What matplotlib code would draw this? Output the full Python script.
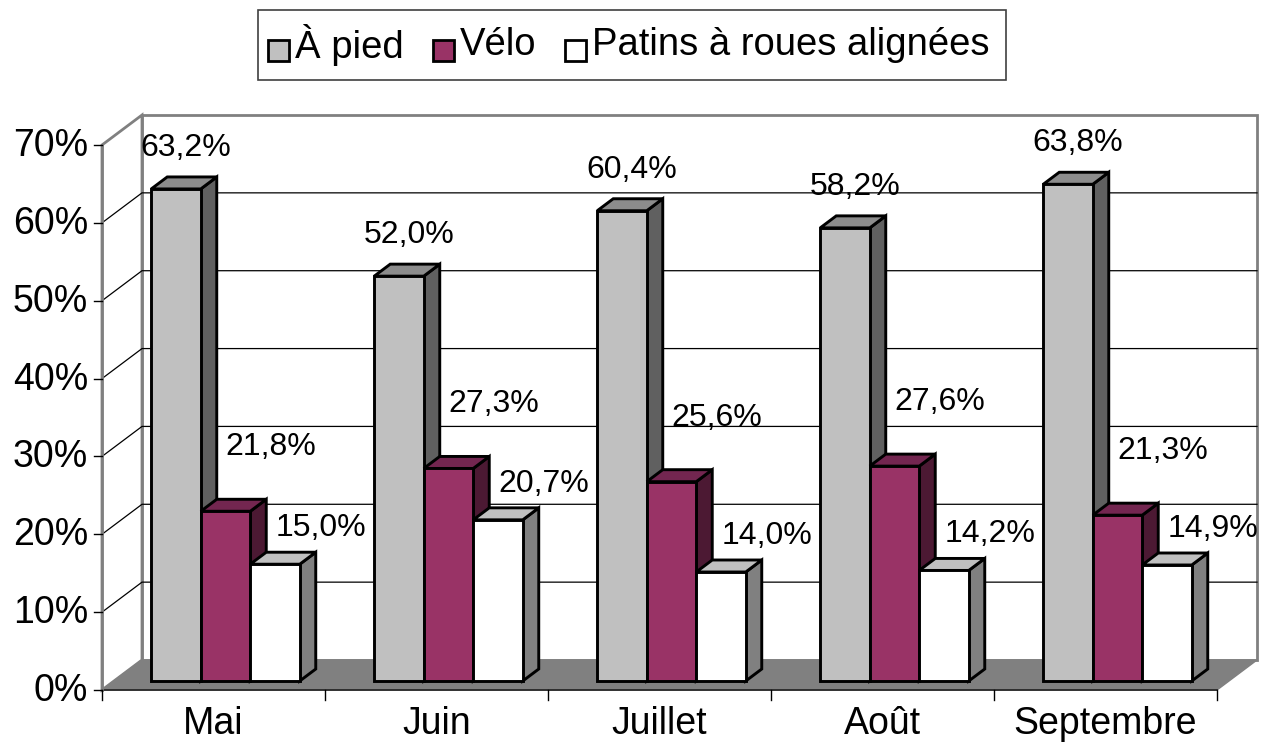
import matplotlib
matplotlib.use("Agg")
import matplotlib.pyplot as plt
from matplotlib.patches import Polygon, Rectangle

# ---------------- data ----------------
categories = ["Mai", "Juin", "Juillet", "Août", "Septembre"]
series_names = ["À pied", "Vélo", "Patins à roues alignées"]
a_pied = [63.2, 52.0, 60.4, 58.2, 63.8]
velo = [21.8, 27.3, 25.6, 27.6, 21.3]
patins = [15.0, 20.7, 14.0, 14.2, 14.9]
y_ticks = [0, 10, 20, 30, 40, 50, 60, 70]
y_tick_labels = ["0%", "10%", "20%", "30%", "40%", "50%", "60%", "70%"]

series_values = [a_pied, velo, patins]
front_colors = ["#C0C0C0", "#993366", "#FFFFFF"]
top_colors = ["#8C8C8C", "#732650", "#C0C0C0"]
side_colors = ["#606060", "#4C1933", "#808080"]
label_offsets = [(10, -41), (45, -64), (46, -36)]

plt.rcParams['font.family'] = ['Liberation Sans', 'DejaVu Sans']

W, H = 1264, 749
fig = plt.figure(figsize=(W / 100, H / 100), dpi=100)
ax = fig.add_axes([0, 0, 1, 1])
ax.set_xlim(0, W)
ax.set_ylim(H, 0)
ax.axis('off')

# ---------------- projection ----------------
X0, X1 = 102, 1217          # front plane x extent
Y0 = 690                    # front plane 0 %
VMAX = 70
PPU = (690 - 145) / VMAX    # pixels per percent
DX, DY = 40, -30            # full depth offset
CW = (X1 - X0) / len(categories)
BW = 49.5
D0, D1 = 0.3, 0.7           # bar depth range


def P(x, v, d):
    return (x + DX * d, Y0 - v * PPU + DY * d)


wall_gray = "#808080"
# back wall
ax.add_patch(Polygon([P(X0, 0, 1), P(X1, 0, 1), P(X1, VMAX, 1), P(X0, VMAX, 1)],
                     closed=True, facecolor="white", edgecolor=wall_gray, lw=2, zorder=1))
# left wall
ax.add_patch(Polygon([P(X0, 0, 0), P(X0, 0, 1), P(X0, VMAX, 1), P(X0, VMAX, 0)],
                     closed=True, facecolor="white", edgecolor=wall_gray, lw=2, zorder=1))
# gridlines
for t in y_ticks[1:-1]:
    xs, ys = zip(P(X0, t, 0), P(X0, t, 1), P(X1, t, 1))
    ax.plot(xs, ys, color="black", lw=0.9, zorder=2)
# floor
ax.add_patch(Polygon([P(X0, 0, 0), P(X1, 0, 0), P(X1, 0, 1), P(X0, 0, 1)],
                     closed=True, facecolor="#808080", edgecolor="#808080", lw=1, zorder=3))
# front bottom edge
xs, ys = zip(P(X0, 0, 0), P(X1, 0, 0))
ax.plot(xs, ys, color="#202020", lw=1.2, zorder=4)
# front left axis line
xs, ys = zip(P(X0, 0, 0), P(X0, VMAX, 0))
ax.plot(xs, ys, color=wall_gray, lw=2, zorder=4)

# y ticks and labels
for t, lab in zip(y_ticks, y_tick_labels):
    x, y = P(X0, t, 0)
    ax.plot([x - 8, x], [y, y], color="black", lw=1, zorder=4)
    ax.text(x - 14, y + 1, lab, ha="right", va="center", fontsize=27, zorder=5)

# category ticks and labels
for i in range(len(categories) + 1):
    x, y = P(X0 + i * CW, 0, 0)
    ax.plot([x, x], [y, y + 10], color="black", lw=1, zorder=4)
for i, cat in enumerate(categories):
    x, y = P(X0 + (i + 0.5) * CW, 0, 0)
    ax.text(x, y + 34, cat, ha="center", va="center", fontsize=27, zorder=5)

# bars
gap = (CW - len(series_values) * BW) / 2
for i in range(len(categories)):
    for s, vals in enumerate(series_values):
        v = vals[i]
        x = X0 + i * CW + gap + s * BW
        z = 10 + i * 3 + s
        front = [P(x, 0, D0), P(x + BW, 0, D0), P(x + BW, v, D0), P(x, v, D0)]
        top = [P(x, v, D0), P(x + BW, v, D0), P(x + BW, v, D1), P(x, v, D1)]
        side = [P(x + BW, 0, D0), P(x + BW, 0, D1), P(x + BW, v, D1), P(x + BW, v, D0)]
        for poly, col in ((side, side_colors[s]), (top, top_colors[s]), (front, front_colors[s])):
            ax.add_patch(Polygon(poly, closed=True, facecolor=col, edgecolor="black",
                                 lw=2.1, joinstyle="miter", zorder=z))
        cx, cy = P(x + BW / 2, v, D0)
        ox, oy = label_offsets[s]
        ax.text(cx + ox, cy + oy, f"{v:.1f}%".replace(".", ","), ha="center", va="center",
                fontsize=23, zorder=40)

# legend
ax.add_patch(Rectangle((258, 10), 748, 70, facecolor="white", edgecolor="#404040",
                       lw=1.2, zorder=30))
leg_x = [268, 433, 565]
for s, name in enumerate(series_names):
    ax.add_patch(Rectangle((leg_x[s], 40), 21, 21, facecolor=front_colors[s],
                           edgecolor="black", lw=2, zorder=31))
    ax.text(leg_x[s] + 27, 45, name, ha="left", va="center", fontsize=27.5, zorder=31)

fig.savefig("out.png", dpi=100)
